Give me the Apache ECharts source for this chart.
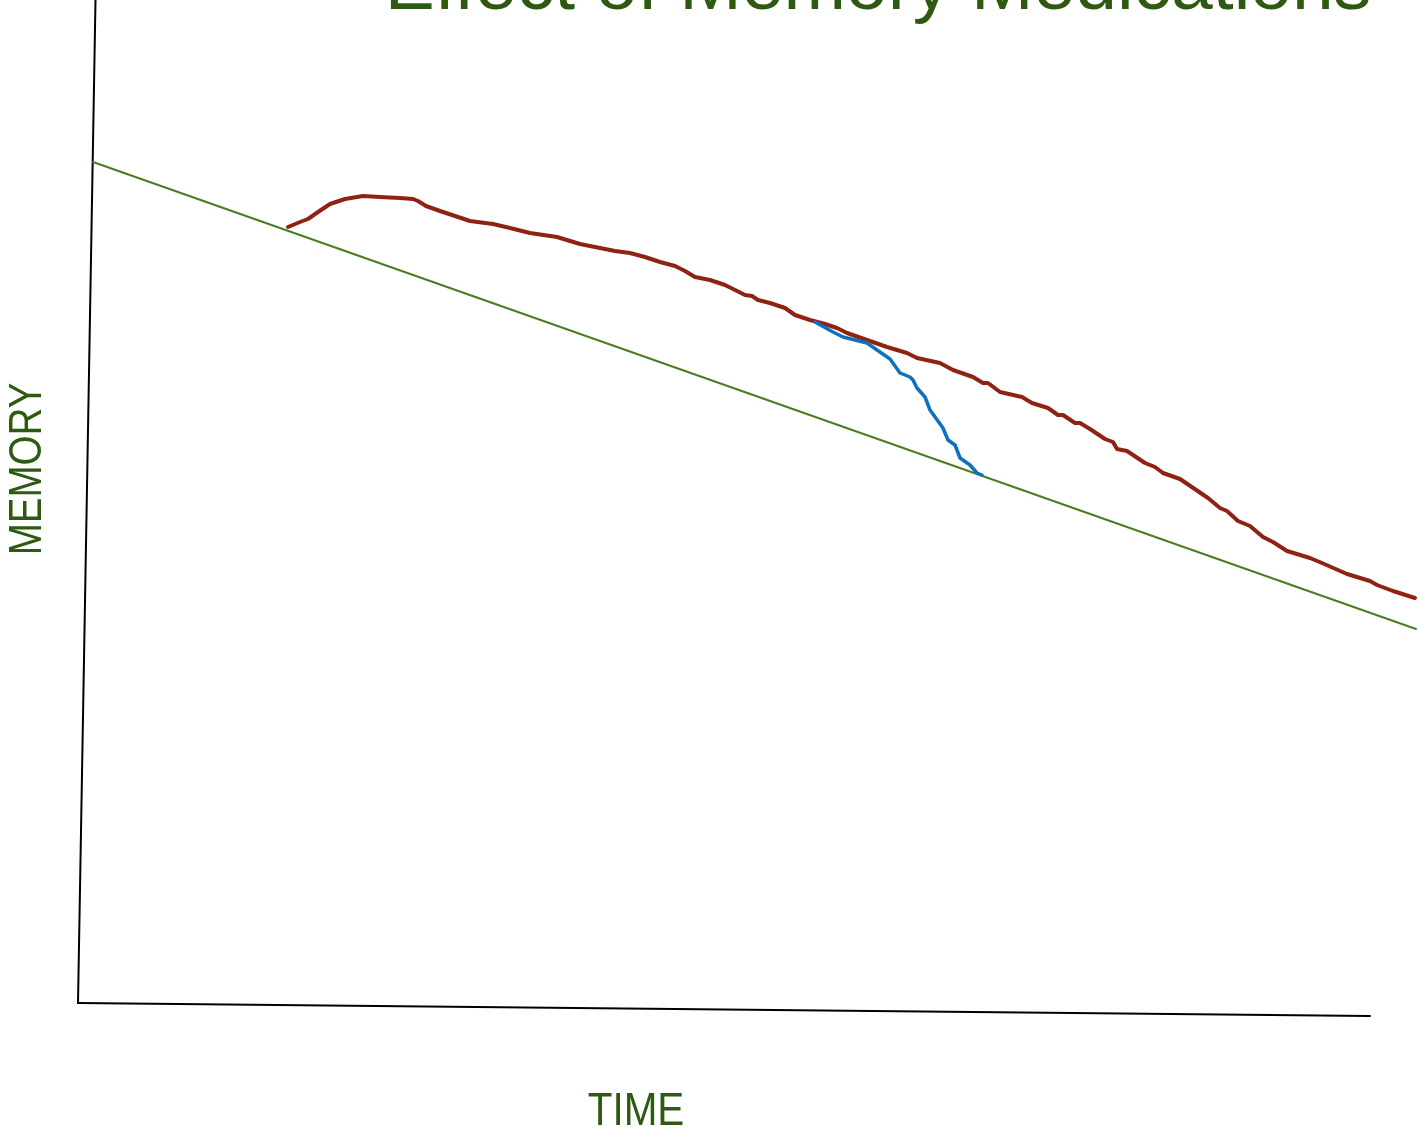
<!DOCTYPE html>
<html>
<head>
<meta charset="utf-8">
<script src="https://cdn.jsdelivr.net/npm/echarts@6/dist/echarts.min.js"></script>
<style>html,body{margin:0;padding:0;background:#fff}#c{width:1419px;height:1134px}</style>
</head>
<body>
<div id="c"></div>
<script>
// data space: time 0..141.9, memory 0..113.4
var titleText = 'Effect of Memory Medications';
var xLabel = 'TIME';
var yLabel = 'MEMORY';

var withoutMeds = [[28.8,90.7],[30.0,91.2],[30.8,91.5],[31.8,92.2],[33.0,93.0],[34.5,93.5],[36.3,93.8],[38.0,93.7],[40.0,93.6],[41.3,93.5],[41.8,93.3],[42.6,92.8],[44.0,92.3],[45.5,91.8],[47.0,91.3],[49.3,91.0],[51.0,90.6],[53.0,90.1],[55.7,89.7],[58.0,89.0],[60.0,88.6],[61.5,88.3],[63.0,88.1],[64.5,87.7],[66.0,87.2],[67.5,86.8],[68.5,86.3],[69.5,85.7],[71.0,85.4],[72.5,84.9],[73.5,84.4],[74.5,83.9],[75.2,83.8],[75.8,83.4],[77.0,83.1],[78.5,82.6],[79.5,81.9],[81.0,81.4],[82.5,81.0],[83.7,80.6],[84.7,80.1],[86.7,79.4],[88.7,78.7],[90.7,78.1],[91.7,77.6],[94.0,77.1],[95.3,76.4],[97.3,75.7],[98.3,75.1],[98.8,75.1],[100.0,74.2],[102.2,73.7],[103.2,73.1],[104.8,72.6],[105.8,71.9],[106.3,71.9],[107.5,71.1],[108.0,71.1],[109.0,70.5],[110.5,69.5],[111.3,69.2],[111.7,68.5],[111.8,68.7],[112.7,68.3],[114.5,67.1],[115.5,66.7],[116.3,66.1],[118.0,65.5],[120.8,63.6],[122.0,62.6],[122.7,62.3],[123.8,61.3],[125.0,60.8],[126.3,59.7],[127.3,59.2],[128.7,58.3],[131.0,57.6],[132.2,57.1],[132.3,57.2],[134.7,56.0],[137.0,55.3],[137.7,54.9],[139.3,54.3],[141.5,53.6]];

var withMeds = [[81.5,81.2],[83.3,80.2],[84.3,79.7],[86.7,79.1],[89.0,77.5],[90.0,76.1],[91.0,75.7],[91.3,75.4],[91.7,74.6],[92.5,73.7],[93.0,72.4],[94.3,70.6],[94.8,69.4],[95.5,68.9],[96.0,67.6],[97.0,66.9],[97.7,66.1],[98.2,65.9]];

var trend = [[9.3,97.2],[141.6,50.5]];

var yAxisLine = [[9.55,113.4],[7.8,13.1]];
var xAxisLine = [[7.8,13.1],[137.0,11.8]];

var textColor = '#2d5a10';
var chart = echarts.init(document.getElementById('c'), null, {renderer:'canvas'});
function ln(data, color, width){
  return {type:'line', data:data, showSymbol:false, symbol:'none', clip:false, animation:false,
    lineStyle:{color:color, width:width, cap:'round', join:'round'}, silent:true};
}
chart.setOption({
  backgroundColor:'#ffffff',
  animation:false,
  grid:{left:0,right:0,top:0,bottom:0,containLabel:false},
  xAxis:{type:'value', min:0, max:141.9, show:false},
  yAxis:{type:'value', min:0, max:113.4, show:false},
  series:[
    ln(yAxisLine,'#000000',2),
    ln(xAxisLine,'#000000',2),
    ln(trend,'#4a7d1f',2),
    ln(withoutMeds,'#8e2314',4),
    ln(withMeds,'#0f70c0',3.5)
  ],
  graphic:[
    {type:'text', x:878, y:-12, style:{text:titleText, font:'75px "Liberation Sans"', fill:textColor, textAlign:'center', textVerticalAlign:'middle'}},
    {type:'text', x:636, y:1112, scaleX:0.86, style:{text:xLabel, font:'47px "Liberation Sans"', fill:textColor, textAlign:'center', textVerticalAlign:'middle'}},
    {type:'text', x:28, y:469, rotation:Math.PI/2, scaleX:0.82, style:{text:yLabel, font:'47px "Liberation Sans"', fill:textColor, textAlign:'center', textVerticalAlign:'middle'}}
  ]
});
</script>
</body>
</html>
